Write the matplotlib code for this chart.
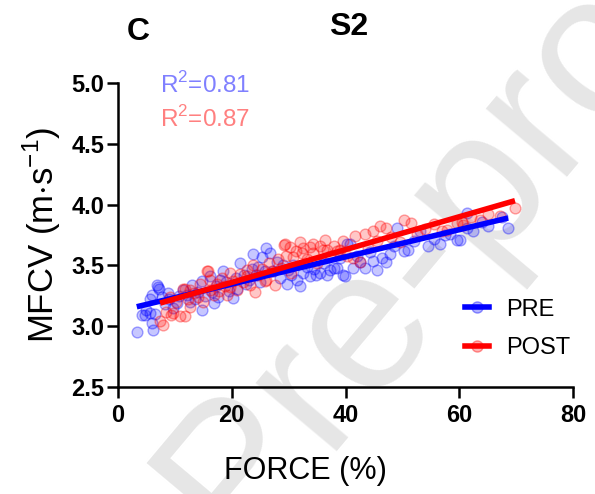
import matplotlib
matplotlib.use("Agg")
import matplotlib.pyplot as plt
from matplotlib.lines import Line2D
import numpy as np

# ---------------- data ----------------
pre_x = [3.3, 4.2, 4.7, 5.0, 5.6, 5.9, 6.1, 6.8, 7.2, 5.9, 5.6, 7.7, 7.1, 6.5, 8.3, 8.8, 9.0, 9.6,
         10.3, 10.8, 11.4, 12.1, 12.6, 13.0, 13.5, 14.1, 14.7, 14.7, 15.3, 16.2, 16.8, 16.5, 17.2,
         17.5, 18.0, 18.5, 19.0, 19.5, 20.3, 20.8, 21.0, 21.5, 22.2, 22.5, 23.0, 23.5, 23.8, 24.2,
         24.6, 25.0, 25.3, 25.8, 26.1, 26.7, 27.2, 27.9, 28.5, 29.0, 29.7, 29.9, 30.5, 30.8, 31.5,
         32.0, 32.6, 33.2, 33.8, 34.4, 34.9, 35.5, 36.2, 36.7, 37.3, 37.9, 38.5, 39.0, 39.6, 39.9,
         40.2, 40.8, 41.4, 42.0, 42.5, 43.4, 44.3, 44.9, 45.5, 46.4, 47.2, 47.8, 48.5, 49.0, 50.2,
         51.0, 52.0, 53.1, 54.5, 55.5, 56.6, 57.5, 58.4, 59.6, 60.1, 61.3, 61.3, 62.5, 64.0, 65.1,
         67.5, 68.6]
pre_y = [2.95, 3.09, 3.09, 3.13, 3.11, 3.03, 2.97, 3.34, 3.31, 3.26, 3.22, 3.24, 3.32, 3.10, 3.18,
         3.27, 3.22, 3.15, 3.19, 3.25, 3.30, 3.26, 3.20, 3.34, 3.22, 3.28, 3.13, 3.37, 3.25, 3.41,
         3.19, 3.28, 3.33, 3.24, 3.38, 3.45, 3.36, 3.29, 3.23, 3.40, 3.31, 3.52, 3.42, 3.35, 3.38,
         3.47, 3.59, 3.42, 3.49, 3.36, 3.57, 3.45, 3.64, 3.60, 3.45, 3.53, 3.40, 3.50, 3.35, 3.46,
         3.42, 3.50, 3.38, 3.33, 3.44, 3.49, 3.41, 3.47, 3.42, 3.44, 3.52, 3.42, 3.46, 3.48, 3.48,
         3.56, 3.42, 3.41, 3.68, 3.68, 3.48, 3.58, 3.53, 3.48, 3.61, 3.54, 3.46, 3.56, 3.53, 3.59,
         3.66, 3.81, 3.62, 3.63, 3.70, 3.78, 3.66, 3.72, 3.68, 3.75, 3.76, 3.71, 3.71, 3.81, 3.93,
         3.78, 3.86, 3.82, 3.90, 3.81]

post_x = [7.4, 7.9, 8.5, 9.1, 9.4, 9.7, 10.2, 10.9, 11.5, 11.8, 11.8, 12.3, 12.7, 12.7, 13.4, 14.1,
          14.4, 15.0, 15.6, 15.9, 16.2, 16.2, 16.9, 17.4, 17.8, 18.3, 18.8, 19.2, 19.7, 19.7, 20.3,
          20.9, 21.4, 22.0, 22.6, 22.6, 23.2, 23.8, 24.1, 24.7, 25.3, 25.9, 26.1, 26.6, 27.1, 27.6,
          28.2, 28.7, 29.1, 29.4, 29.6, 30.2, 30.5, 30.8, 31.3, 32.0, 32.3, 32.6, 33.2, 33.8, 34.3,
          34.3, 35.0, 35.6, 36.1, 36.4, 36.7, 37.3, 38.0, 38.5, 39.0, 39.6, 40.2, 41.4, 41.7, 42.5,
          43.4, 44.0, 44.9, 45.5, 46.1, 47.2, 48.0, 49.6, 50.2, 51.6, 52.5, 54.0, 55.5, 57.0, 57.8,
          59.6, 60.4, 60.7, 62.0, 63.6, 65.0, 67.2, 69.8]
post_y = [3.04, 3.01, 3.12, 3.24, 3.09, 3.11, 3.20, 3.08, 3.31, 3.08, 3.31, 3.22, 3.30, 3.16, 3.27,
          3.24, 3.35, 3.20, 3.45, 3.45, 3.30, 3.38, 3.26, 3.35, 3.29, 3.40, 3.33, 3.26, 3.32, 3.44,
          3.37, 3.30, 3.43, 3.36, 3.41, 3.46, 3.34, 3.50, 3.28, 3.42, 3.47, 3.37, 3.38, 3.52, 3.45,
          3.34, 3.55, 3.48, 3.67, 3.68, 3.58, 3.65, 3.44, 3.57, 3.62, 3.69, 3.60, 3.64, 3.55, 3.65,
          3.68, 3.60, 3.52, 3.66, 3.63, 3.71, 3.63, 3.58, 3.66, 3.62, 3.63, 3.70, 3.58, 3.56, 3.74,
          3.53, 3.76, 3.64, 3.78, 3.70, 3.82, 3.81, 3.73, 3.69, 3.87, 3.85, 3.76, 3.80, 3.84, 3.78,
          3.79, 3.85, 3.86, 3.83, 3.90, 3.87, 3.92, 3.91, 3.97]

# regression lines: (slope, intercept, x_start, x_end)
pre_fit = (0.01118, 3.123, 3.3, 68.6)
post_fit = (0.0135, 3.09, 7.4, 69.8)

series_labels = ["PRE", "POST"]
r2_texts = ["R$^2$=0.81", "R$^2$=0.87"]
x_ticks = [0, 20, 40, 60, 80]
y_ticks = [2.5, 3.0, 3.5, 4.0, 4.5, 5.0]

# ---------------- figure ----------------
W, H = 595, 494
fig = plt.figure(figsize=(W / 100, H / 100), dpi=100)
plt.rcParams['font.family'] = ['Liberation Sans', 'DejaVu Sans']
plt.rcParams['mathtext.fontset'] = 'custom'
plt.rcParams['mathtext.rm'] = 'Liberation Sans'

def fx(px):
    return px / W

def fy(py):
    return 1 - py / H

# watermark
fig.text(fx(242), fy(484), "Journal Pre-proof", fontsize=145, color='#e6e6e6',
         rotation=50, ha='center', va='center', rotation_mode='anchor', zorder=-5)

ax = fig.add_axes([fx(118), fy(387), fx(573) - fx(118), fy(83) - fy(387)])
ax.set_facecolor('none')
ax.set_xlim(0, 80)
ax.set_ylim(2.5, 5.0)

blue = (0, 0, 1)
red = (1, 0, 0)
ax.scatter(pre_x, pre_y, s=60, facecolor=(0, 0, 1, 0.22), edgecolor=(0, 0, 1, 0.35),
           linewidth=1, zorder=2, clip_on=False)
ax.scatter(post_x, post_y, s=60, facecolor=(1, 0, 0, 0.22), edgecolor=(1, 0, 0, 0.35),
           linewidth=1, zorder=2, clip_on=False)

for fit, c in [(pre_fit, blue), (post_fit, red)]:
    m, b, x0, x1 = fit
    xs = np.array([x0, x1])
    ax.plot(xs, m * xs + b, color=c, lw=4, solid_capstyle='butt', zorder=3)

for s in ['top', 'right']:
    ax.spines[s].set_visible(False)
for s in ['left', 'bottom']:
    ax.spines[s].set_linewidth(1.8)

ax.set_xticks(x_ticks)
ax.set_yticks(y_ticks)
ax.set_xticklabels([str(t) for t in x_ticks], fontsize=17, fontweight='bold')
ax.set_yticklabels([f"{t:.1f}" for t in y_ticks], fontsize=17, fontweight='bold')
ax.tick_params(axis='x', direction='out', length=8, width=1.8, pad=4)
ax.tick_params(axis='y', direction='out', length=8, width=1.8, pad=2)

ax.set_xlabel("FORCE (%)", fontsize=22)
ax.xaxis.set_label_coords(0.413, -0.228)
ax.set_ylabel("MFCV (m$\\cdot$s$^{-1}$)", fontsize=25, labelpad=6)

# R^2 texts
fig.text(fx(160), fy(93), r2_texts[0], fontsize=17.5, color='#8080ff', ha='left', va='baseline')
fig.text(fx(160), fy(127), r2_texts[1], fontsize=17.5, color='#ff8080', ha='left', va='baseline')

# titles
fig.text(fx(349), fy(35), "S2", fontsize=23, fontweight='bold', ha='center', va='baseline')
fig.text(fx(127), fy(40), "C", fontsize=23, fontweight='bold', ha='left', va='baseline')

# legend
handles = [
    Line2D([], [], color=blue, lw=4, marker='o', markersize=8,
           markerfacecolor=(0, 0, 1, 0.3), markeredgecolor=(0, 0, 1, 0.4)),
    Line2D([], [], color=red, lw=4, marker='o', markersize=8,
           markerfacecolor=(1, 0, 0, 0.3), markeredgecolor=(1, 0, 0, 0.4)),
]
fig.legend(handles, series_labels, loc='center left', bbox_to_anchor=(fx(465), fy(329)),
           frameon=False, fontsize=17, handlelength=1.0, handletextpad=0.75,
           labelspacing=0.7, borderpad=0, borderaxespad=0)

fig.savefig("out.png", dpi=100)
